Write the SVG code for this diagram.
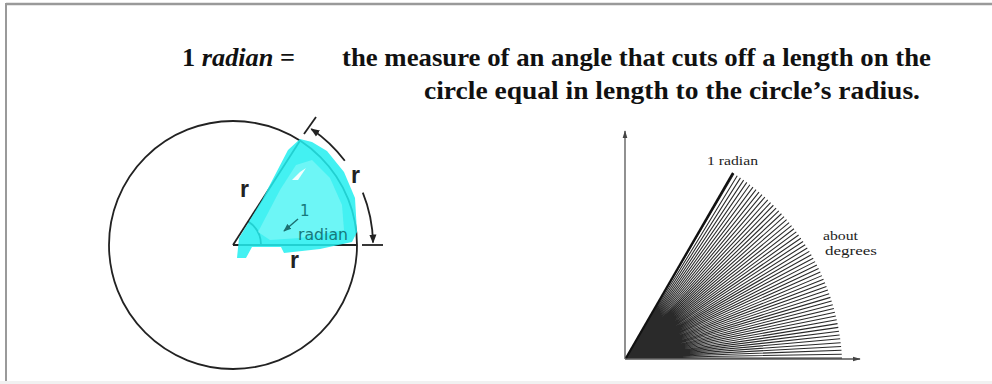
<svg xmlns="http://www.w3.org/2000/svg" width="992" height="384" viewBox="0 0 992 384">
<style>
.title{font-family:"Liberation Serif","Times New Roman",serif;font-weight:bold;font-size:25px;fill:#111}
.ink{stroke:#222;fill:none;stroke-width:1.8}
.r{font-family:"Liberation Sans",Arial,sans-serif;font-weight:bold;font-size:23px;fill:#222}
.teal{font-family:"DejaVu Sans","Liberation Sans",sans-serif;font-size:15px;fill:#17797b}
.small{font-family:"Liberation Serif","Times New Roman",serif;font-size:13px;fill:#222}
.axis{stroke:#555;stroke-width:1.3;fill:none}
</style>
<defs>
<marker id="ah" viewBox="0 0 10 10" refX="9" refY="5" markerWidth="9" markerHeight="9" markerUnits="userSpaceOnUse" orient="auto">
<path d="M0 1L10 5L0 9Z" fill="#222"/>
</marker>
<marker id="ahT" viewBox="0 0 10 10" refX="9" refY="5" markerWidth="8" markerHeight="8" markerUnits="userSpaceOnUse" orient="auto">
<path d="M0 1L10 5L0 9Z" fill="#1d6f70"/>
</marker>
<marker id="ax" viewBox="0 0 10 10" refX="9" refY="5" markerWidth="8" markerHeight="8" markerUnits="userSpaceOnUse" orient="auto">
<path d="M0 2L10 5L0 8Z" fill="#444"/>
</marker>
</defs>
<rect width="992" height="384" fill="#fff"/>
<rect x="0" y="381" width="992" height="3" fill="#f1f1f1"/>
<line x1="6" y1="4" x2="992" y2="4" stroke="#9a9a9a" stroke-width="2.5"/>
<line x1="6" y1="3" x2="6" y2="381" stroke="#9a9a9a" stroke-width="2"/>

<g id="title">
<text class="title" x="182" y="66" textLength="113" lengthAdjust="spacingAndGlyphs"><tspan>1 </tspan><tspan font-style="italic">radian</tspan><tspan> =</tspan></text>
<text class="title" x="342" y="66" textLength="589" lengthAdjust="spacingAndGlyphs">the measure of an angle that cuts off a length on the</text>
<text class="title" x="424" y="99" textLength="496" lengthAdjust="spacingAndGlyphs">circle equal in length to the circle’s radius.</text>
</g>

<g id="circle-diagram">
<circle class="ink" cx="233" cy="245" r="124"/>
<line class="ink" x1="233" y1="245" x2="357" y2="245"/>
<line class="ink" x1="362" y1="245" x2="383" y2="245"/>
<line class="ink" x1="233" y1="245" x2="300" y2="140.7"/>
<line class="ink" x1="304" y1="134" x2="316" y2="117"/>
<path class="ink" d="M261 245A28 28 0 0 0 248.2 221.5"/>
<path class="ink" d="M344.8 160.7A140 140 0 0 0 311.3 128.9" marker-end="url(#ah)"/>
<path class="ink" d="M362.8 192.6A140 140 0 0 1 373 242.6" marker-end="url(#ah)"/>
<g id="highlight">
<path d="M237 258L239 238L262 200L288 150L300 139L312 142L327 151L344 172L355 198L357 232L352 242L320 249L284 253L281 247L252 247L246 258Z" fill="#22eef0" opacity="0.85"/>
<path d="M258 232L280 190L296 165L312 160L330 178L342 205L344 230L300 238L270 240Z" fill="#8ff9f9" opacity="0.55"/>
<path d="M292 180L300 172L306 168L298 180Z" fill="#ffffff" opacity="0.9"/>
</g>
<text class="r" x="240" y="197">r</text>
<text class="r" x="351" y="183">r</text>
<text class="r" x="290" y="268">r</text>
<text class="teal" x="300" y="216">1</text>
<text class="teal" x="298" y="240" textLength="50" lengthAdjust="spacingAndGlyphs">radian</text>
<line x1="298" y1="219" x2="284" y2="231" stroke="#1d6f70" stroke-width="1.5" marker-end="url(#ahT)"/>
</g>

<g id="fan-diagram">
<line class="axis" x1="625" y1="359" x2="625" y2="131" marker-end="url(#ax)"/>
<line class="axis" x1="625" y1="359" x2="860" y2="359" marker-end="url(#ax)"/>
<g transform="matrix(1,0,0.0534,1.018,626,358)">
<path stroke="#2a2a2a" stroke-width="1.05" fill="none" d="M0 0L216 0M0 0L215.97 -3.77M0 0L215.87 -7.54M0 0L215.70 -11.31M0 0L215.47 -15.07M0 0L215.18 -18.83M0 0L214.82 -22.58M0 0L214.39 -26.32M0 0L213.90 -30.06M0 0L213.34 -33.79M0 0L212.72 -37.51M0 0L212.03 -41.21M0 0L211.28 -44.91M0 0L210.46 -48.59M0 0L209.58 -52.25M0 0L208.64 -55.91M0 0L207.63 -59.54M0 0L206.56 -63.15M0 0L205.43 -66.75M0 0L204.23 -70.32M0 0L202.97 -73.88M0 0L201.65 -77.41M0 0L200.27 -80.92M0 0L198.83 -84.40M0 0L197.33 -87.86M0 0L195.76 -91.29M0 0L194.14 -94.69M0 0L192.46 -98.06M0 0L190.72 -101.41M0 0L188.92 -104.72M0 0L187.06 -108M0 0L185.15 -111.25M0 0L183.18 -114.46M0 0L181.15 -117.64M0 0L179.07 -120.79M0 0L176.94 -123.89M0 0L174.75 -126.96M0 0L172.51 -130M0 0L170.21 -132.98M0 0L167.86 -135.93M0 0L165.46 -138.84M0 0L163.02 -141.71M0 0L160.52 -144.53M0 0L157.97 -147.31M0 0L155.38 -150.05M0 0L152.74 -152.74M0 0L150.05 -155.38M0 0L147.31 -157.97M0 0L144.53 -160.52M0 0L141.71 -163.02M0 0L138.84 -165.46M0 0L135.93 -167.86M0 0L132.98 -170.21M0 0L130 -172.51M0 0L126.96 -174.75M0 0L123.89 -176.94M0 0L120.79 -179.07M0 0L117.64 -181.15"/>
<line x1="0" y1="0" x2="116.7" y2="-181.76" stroke="#111" stroke-width="2.2"/>
</g>
<text class="small" x="707" y="165" textLength="51" lengthAdjust="spacingAndGlyphs">1 radian</text>
<text class="small" x="823" y="240" textLength="35" lengthAdjust="spacingAndGlyphs">about</text>
<text class="small" x="825" y="255" textLength="52" lengthAdjust="spacingAndGlyphs">degrees</text>
</g>
</svg>
